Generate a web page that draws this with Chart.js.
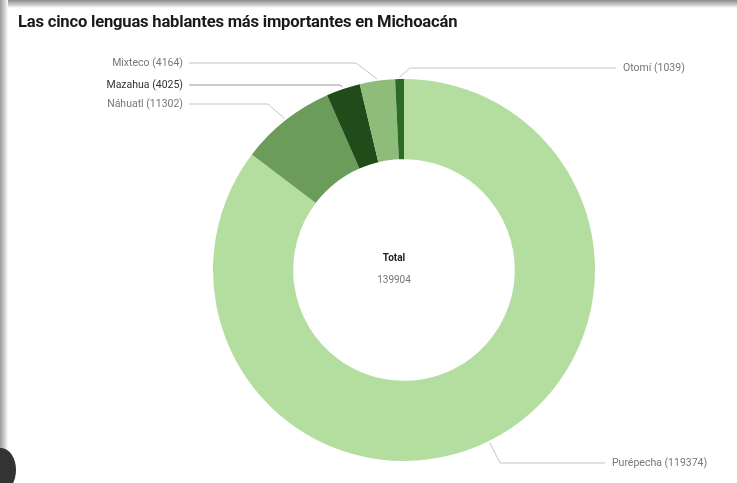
<!DOCTYPE html>
<html>
<head>
<meta charset="utf-8">
<script src="https://cdn.jsdelivr.net/npm/chart.js@4"></script>
<style>
  html, body { margin: 0; padding: 0; background: #fff; }
  #wrap { position: relative; width: 737px; height: 483px; overflow: hidden; background: #fff; }
  #shadowTop { position: absolute; left: 0; top: 0; width: 737px; height: 8px;
    background: linear-gradient(#8a8a8a, #d8d8d8 70%, #fff); }
  #shadowLeft { position: absolute; left: 0; top: 0; width: 8px; height: 483px;
    background: linear-gradient(90deg, #9a9a9a, #dcdcdc 70%, #fff); }
  #blob { position: absolute; left: -14px; top: 448px; width: 30px; height: 44px;
    border-radius: 50%; background: #333; }
  #title { position: absolute; left: 18px; top: 12px; font: bold 16.6px Roboto, "Liberation Sans", sans-serif;
    color: #1a1a1a; letter-spacing: -0.2px; }
  canvas { position: absolute; left: 0; top: 0; }
</style>
</head>
<body>
<div id="wrap">
  <canvas id="pie" width="737" height="483"></canvas>
  <div id="shadowTop"></div>
  <div id="shadowLeft"></div>
  <div id="blob"></div>
  <div id="title">Las cinco lenguas hablantes más importantes en Michoacán</div>
</div>
<script>
// datos
const lenguas = ['Purépecha', 'Náhuatl', 'Mazahua', 'Mixteco', 'Otomí'];
const hablantes = [119374, 11302, 4025, 4164, 1039];
const colores = ['#b4dea0', '#6c9c5a', '#1f4c18', '#8dbd79', '#2e6a27'];

const total = hablantes.reduce((a, b) => a + b, 0);

// posiciones de las etiquetas (x del texto, y de la linea, x del codo)
const etiquetas = [
    { lado: 'right', x: 612, y: 463, codo: 500 },
    { lado: 'left',  x: 183, y: 104, codo: 268 },
    { lado: 'left',  x: 183, y: 85,  codo: 340 },
    { lado: 'left',  x: 183, y: 63,  codo: 356 },
    { lado: 'right', x: 623, y: 68,  codo: 410 }
];

const leaderLines = {
    id: 'leaderLines',
    afterDraw(chart) {
        const ctx = chart.ctx;
        const arcs = chart.getDatasetMeta(0).data;
        ctx.save();
        ctx.font = '10.5px Roboto, "Liberation Sans", sans-serif';
        ctx.textBaseline = 'middle';
        arcs.forEach((arc, i) => {
            const p = arc.getProps(['x', 'y', 'startAngle', 'endAngle', 'outerRadius']);
            const mid = (p.startAngle + p.endAngle) / 2;
            const ax = p.x + Math.cos(mid) * (p.outerRadius + 2);
            const ay = p.y + Math.sin(mid) * (p.outerRadius + 2);
            const e = etiquetas[i];
            const endX = e.lado === 'left' ? e.x + 6 : e.x - 7;
            ctx.strokeStyle = i === 2 ? '#999' : '#c4c4c4';
            ctx.lineWidth = 1;
            ctx.beginPath();
            ctx.moveTo(ax, ay);
            ctx.lineTo(e.codo, e.y);
            ctx.lineTo(endX, e.y);
            ctx.stroke();
            ctx.fillStyle = i === 2 ? '#333' : '#777';
            ctx.textAlign = e.lado === 'left' ? 'right' : 'left';
            ctx.fillText(lenguas[i] + ' (' + hablantes[i] + ')', e.x, e.y);
        });
        // total en el centro
        const c = arcs[0];
        ctx.textAlign = 'center';
        ctx.fillStyle = '#222';
        ctx.font = 'bold 10px Roboto, "Liberation Sans", sans-serif';
        ctx.fillText('Total', c.x - 10, c.y - 12);
        ctx.fillStyle = '#777';
        ctx.font = '10px Roboto, "Liberation Sans", sans-serif';
        ctx.fillText(String(total), c.x - 10, c.y + 10);
        ctx.restore();
    }
};

const ctx = document.getElementById('pie').getContext('2d');
const chart = new Chart(ctx, {
    type: 'doughnut',
    data: {
        labels: lenguas,
        datasets: [{
            data: hablantes,
            backgroundColor: colores,
            borderWidth: 0
        }]
    },
    options: {
        responsive: false,
        animation: false,
        cutout: '58%',
        layout: { padding: { left: 213, right: 142, top: 79, bottom: 22 } },
        plugins: {
            legend: { display: false },
            tooltip: { enabled: false }
        }
    },
    plugins: [leaderLines]
});
</script>
</body>
</html>
